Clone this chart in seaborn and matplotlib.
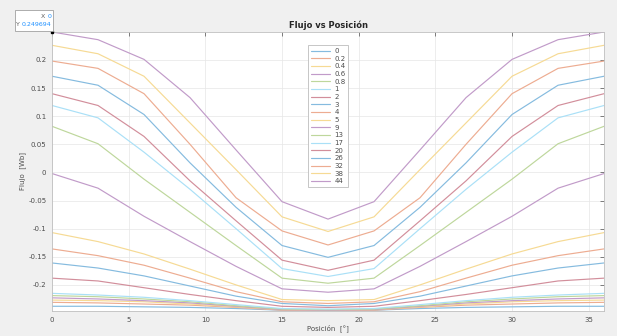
import numpy as np
import pandas as pd
import matplotlib
matplotlib.use("Agg")
import matplotlib.pyplot as plt
import seaborn as sns
from matplotlib.colors import to_rgb

# ---------------- data ----------------
posicion = [0, 3, 6, 9, 12, 15, 18, 21, 24, 27, 30, 33, 36]
corrientes = ["0", "0.2", "0.4", "0.6", "0.8", "1", "2", "3", "4", "5",
              "9", "13", "17", "20", "26", "32", "38", "44"]

flujo_0   = [-0.238, -0.238, -0.239, -0.240, -0.242, -0.245, -0.2464, -0.245, -0.242, -0.240, -0.239, -0.238, -0.238]
flujo_02  = [-0.231, -0.232, -0.234, -0.236, -0.240, -0.245, -0.246, -0.245, -0.240, -0.236, -0.234, -0.232, -0.231]
flujo_04  = [-0.227, -0.228, -0.230, -0.234, -0.239, -0.244, -0.245, -0.244, -0.239, -0.234, -0.230, -0.228, -0.227]
flujo_06  = [-0.223, -0.225, -0.228, -0.232, -0.238, -0.244, -0.245, -0.244, -0.238, -0.232, -0.228, -0.225, -0.223]
flujo_08  = [-0.219, -0.221, -0.225, -0.230, -0.237, -0.243, -0.244, -0.243, -0.237, -0.230, -0.225, -0.221, -0.219]
flujo_1   = [-0.215, -0.218, -0.222, -0.228, -0.235, -0.242, -0.243, -0.242, -0.235, -0.228, -0.222, -0.218, -0.215]
flujo_2   = [-0.188, -0.193, -0.205, -0.217, -0.228, -0.238, -0.240, -0.238, -0.228, -0.217, -0.205, -0.193, -0.188]
flujo_3   = [-0.161, -0.170, -0.184, -0.202, -0.220, -0.233, -0.237, -0.233, -0.220, -0.202, -0.184, -0.170, -0.161]
flujo_4   = [-0.136, -0.148, -0.165, -0.188, -0.212, -0.230, -0.233, -0.230, -0.212, -0.188, -0.165, -0.148, -0.136]
flujo_5   = [-0.107, -0.123, -0.145, -0.172, -0.200, -0.226, -0.228, -0.226, -0.200, -0.172, -0.145, -0.123, -0.107]
flujo_9   = [-0.002, -0.028, -0.078, -0.123, -0.167, -0.207, -0.213, -0.207, -0.167, -0.123, -0.078, -0.028, -0.002]
flujo_13  = [0.082, 0.051, -0.012, -0.071, -0.130, -0.188, -0.197, -0.188, -0.130, -0.071, -0.012, 0.051, 0.082]
flujo_17  = [0.119, 0.097, 0.036, -0.030, -0.100, -0.171, -0.185, -0.171, -0.100, -0.030, 0.036, 0.097, 0.119]
flujo_20  = [0.140, 0.119, 0.064, -0.015, -0.086, -0.156, -0.174, -0.156, -0.086, -0.015, 0.064, 0.119, 0.140]
flujo_26  = [0.171, 0.155, 0.103, 0.017, -0.062, -0.130, -0.151, -0.130, -0.062, 0.017, 0.103, 0.155, 0.171]
flujo_32  = [0.198, 0.185, 0.140, 0.050, -0.045, -0.104, -0.129, -0.104, -0.045, 0.050, 0.140, 0.185, 0.198]
flujo_38  = [0.226, 0.211, 0.171, 0.088, 0.005, -0.079, -0.105, -0.079, 0.005, 0.088, 0.171, 0.211, 0.226]
flujo_44  = [0.249694, 0.236, 0.201, 0.133, 0.040, -0.052, -0.083, -0.052, 0.040, 0.133, 0.201, 0.236, 0.249694]

series = [flujo_0, flujo_02, flujo_04, flujo_06, flujo_08, flujo_1, flujo_2, flujo_3,
          flujo_4, flujo_5, flujo_9, flujo_13, flujo_17, flujo_20, flujo_26, flujo_32,
          flujo_38, flujo_44]

rows = []
for lab, vals in zip(corrientes, series):
    for x, y in zip(posicion, vals):
        rows.append({"Posicion": x, "Flujo": y, "Corriente": lab})
df = pd.DataFrame(rows)

# MATLAB default colour order, washed out as in the screenshot
matlab = ["#0072BD", "#D95319", "#EDB120", "#7E2F8E", "#77AC30", "#4DBEEE", "#A2142F"]
def soften(c, f=0.52):
    r, g, b = to_rgb(c)
    return (r + (1 - r) * f, g + (1 - g) * f, b + (1 - b) * f)
palette = [soften(matlab[i % 7]) for i in range(len(corrientes))]

# ---------------- figure ----------------
sns.set_style("white")
plt.rcParams['font.family'] = ['DejaVu Sans']
fig = plt.figure(figsize=(6.17, 3.36), dpi=100, facecolor="#f0f0f0")
ax = fig.add_axes([0.0843, 0.0744, 0.8947, 0.8304])
ax.set_facecolor("white")

sns.lineplot(data=df, x="Posicion", y="Flujo", hue="Corriente", hue_order=corrientes,
             palette=palette, sort=False, estimator=None, linewidth=0.85, ax=ax, legend=True)

ax.set_xlim(0, 36)
ax.set_ylim(-0.2464, 0.249694)
ax.set_xticks([0, 5, 10, 15, 20, 25, 30, 35])
ax.set_yticks([-0.2, -0.15, -0.1, -0.05, 0, 0.05, 0.1, 0.15, 0.2])
ax.set_yticklabels(["-0.2", "-0.15", "-0.1", "-0.05", "0", "0.05", "0.1", "0.15", "0.2"])
ax.tick_params(axis="both", labelsize=5, colors="#4d4d4d", direction="in", length=3,
               width=0.5, top=True, right=True, pad=4)
ax.grid(True, color="#e6e6e6", linewidth=0.5)
for s in ax.spines.values():
    s.set_color("#bfbfbf")
    s.set_linewidth(0.6)

ax.set_title("Flujo vs Posición", fontsize=6, fontweight="bold", color="#262626", pad=3)
ax.set_xlabel("Posición  [°]", fontsize=5, color="#4d4d4d", labelpad=1)
ax.set_ylabel("Flujo  [Wb]", fontsize=5, color="#4d4d4d", labelpad=2)

handles, labels = ax.get_legend_handles_labels()
leg = ax.legend(handles, labels, loc="upper center", bbox_to_anchor=(0.5, 0.965),
                fontsize=5, frameon=True, fancybox=False, handlelength=2.8,
                labelspacing=0.24, borderpad=0.4, handletextpad=0.6,
                edgecolor="#bdbdbd", framealpha=1)
leg.get_frame().set_linewidth(0.6)
for t in leg.get_texts():
    t.set_color("#4d4d4d")

# data tip
ax.plot([0], [0.249694], marker="s", markersize=2, color="black", clip_on=False, zorder=10)
fig.patches.append(plt.Rectangle((15 / 617, 1 - 31 / 336), 38 / 617, 21 / 336,
                                 transform=fig.transFigure, facecolor="white",
                                 edgecolor="#a0a0a0", linewidth=0.6, zorder=5))
fig.text(45 / 617, 1 - 16 / 336, "X", fontsize=4.5, color="#606060", ha="right", va="center", zorder=6)
fig.text(51 / 617, 1 - 16 / 336, "0", fontsize=4.5, color="#1e90ff", ha="right", va="center", zorder=6)
fig.text(20 / 617, 1 - 24 / 336, "Y", fontsize=4.5, color="#606060", ha="right", va="center", zorder=6)
fig.text(51.5 / 617, 1 - 24 / 336, "0.249694", fontsize=4.5, color="#1e90ff", ha="right", va="center", zorder=6)

fig.savefig("out.png", dpi=100, facecolor=fig.get_facecolor())
